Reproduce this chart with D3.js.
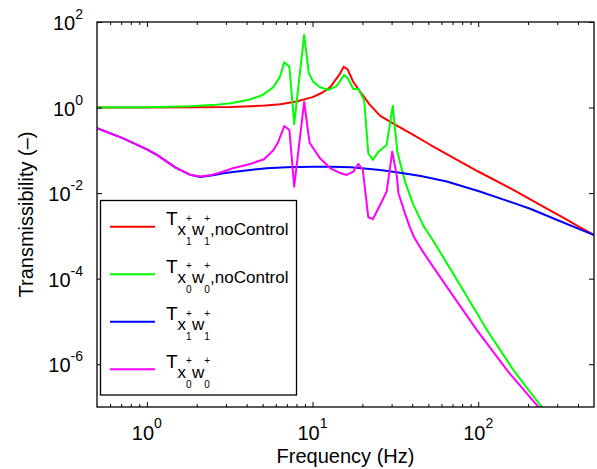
<!DOCTYPE html>
<html><head><meta charset="utf-8">
<script src="https://cdn.jsdelivr.net/npm/d3@7"></script>
<style>body{margin:0;background:#fff}svg{display:block}</style>
</head><body><svg id="chart" width="597" height="469"></svg>
<script>
// ---------- data ----------
const redFreq = [0.5, 1, 2, 3.2, 4.2, 5.2, 6.4, 8, 10, 11.5, 12.8, 13.8, 14.7, 15.4, 16.3, 17.6, 19, 20.3, 22, 25.6, 32.3, 40.6, 51.3, 64.6, 100, 163, 250, 330, 412, 500];
const redValues = [1.0, 1.0, 1.01, 1.03, 1.07, 1.12, 1.2, 1.38, 1.75, 2.25, 3.0, 4.5, 6.3, 9.0, 7.8, 4.0, 2.6, 1.85, 1.2, 0.64, 0.38, 0.23, 0.135, 0.082, 0.032, 0.0119, 4.7e-3, 2.6e-3, 1.58e-3, 1.05e-3];

const greenFreq = [0.5, 1, 1.8, 2.5, 3.2, 4.2, 5.0, 5.8, 6.35, 6.75, 7.25, 7.75, 8.9, 9.5, 10.1, 11.1, 12.5, 14.0, 15.5, 16.4, 17.6, 18.9, 20.5, 21.7, 23.1, 25.0, 28.0, 30.5, 32.5, 36.2, 40.4, 46.7, 53.6, 64.0, 78.2, 114, 166, 242, 312];
const greenValues = [1.0, 1.01, 1.07, 1.14, 1.26, 1.55, 1.97, 3.0, 5.2, 11.4, 9.0, 0.41, 49.7, 6.3, 4.0, 2.98, 2.58, 3.2, 5.8, 4.7, 2.72, 2.72, 1.5, 0.0855, 0.06, 0.093, 0.134, 1.09, 0.093, 0.0183, 5.6e-3, 1.71e-3, 7.6e-4, 2.47e-4, 6.8e-5, 6.0e-6, 6.6e-7, 1e-7, 2.7e-8];

const blueFreq = [0.5, 0.72, 1.0, 1.15, 1.5, 1.82, 2.1, 2.5, 2.9, 3.3, 4.2, 5.3, 7, 10, 13, 17, 25.6, 33.8, 45, 64.6, 100, 163, 206, 300, 412, 500];
const blueValues = [0.33, 0.19, 0.105, 0.078, 0.039, 0.027, 0.0238, 0.026, 0.029, 0.031, 0.0348, 0.0382, 0.040, 0.0416, 0.0416, 0.040, 0.0348, 0.0301, 0.025, 0.0186, 0.0112, 5.9e-3, 4.3e-3, 2.35e-3, 1.42e-3, 1.05e-3];

const magentaFreq = [0.5, 0.72, 1.0, 1.15, 1.5, 1.82, 2.1, 2.5, 2.9, 3.3, 4.2, 5.1, 5.8, 6.2, 6.75, 7.25, 7.75, 8.9, 9.6, 11.1, 12.8, 14.5, 16.1, 17.6, 18.9, 20.1, 21.7, 23.1, 25.0, 28.0, 30.3, 32.3, 33.0, 36.2, 38.8, 41.2, 45.6, 51.0, 64.1, 98.9, 152, 231, 312];
const magentaValues = [0.33, 0.19, 0.105, 0.078, 0.039, 0.027, 0.0245, 0.027, 0.032, 0.038, 0.048, 0.062, 0.1, 0.155, 0.37, 0.30, 0.0142, 1.35, 0.15, 0.065, 0.038, 0.030, 0.0266, 0.0318, 0.0481, 0.035, 2.73e-3, 2.46e-3, 4.44e-3, 0.0108, 0.0933, 0.0243, 9.95e-3, 3.27e-3, 1.54e-3, 9.0e-4, 4.7e-4, 2.47e-4, 6.8e-5, 6.0e-6, 6.6e-7, 1e-7, 2.8e-8];

const seriesColors = ["#ff0000", "#00ff00", "#0000ff", "#ff00ff"];
const legendIndex = ["1", "0", "1", "0"];
const legendSuffix = [",noControl", ",noControl", "", ""];

const xDomain = [0.5, 500];
const yDomain = [1e-7, 1e2];
const xMajorTicks = [1, 10, 100];
const xMinorTicks = [0.6, 0.7, 0.8, 0.9, 2, 3, 4, 5, 6, 7, 8, 9, 20, 30, 40, 50, 60, 70, 80, 90, 200, 300, 400];
const yMajorTicks = [1e-6, 1e-4, 1e-2, 1, 1e2];
const xTickExponents = ["0", "1", "2"];
const yTickExponents = ["-6", "-4", "-2", "0", "2"];
const xTitle = "Frequency (Hz)";
const yTitle = "Transmissibility (\u2013)";

// ---------- layout ----------
const FONT = "'Liberation Sans', Arial, Helvetica, sans-serif";
const L = 97, R = 594, T = 22, B = 407;
const svg = d3.select("#chart").style("font-family", FONT);

const x = d3.scaleLog().domain(xDomain).range([L, R]);
const y = d3.scaleLog().domain(yDomain).range([B, T]);

svg.append("defs").append("clipPath").attr("id", "plotclip")
  .append("rect").attr("x", L).attr("y", T).attr("width", R - L).attr("height", B - T);

const series = [
  {f: redFreq, v: redValues},
  {f: greenFreq, v: greenValues},
  {f: blueFreq, v: blueValues},
  {f: magentaFreq, v: magentaValues}
];

const line = d3.line().x(d => x(d[0])).y(d => y(d[1]));
const lines = svg.append("g").attr("clip-path", "url(#plotclip)");
series.forEach((s, i) => {
  lines.append("path")
    .datum(s.f.map((f, k) => [f, s.v[k]]))
    .attr("d", line)
    .attr("fill", "none")
    .attr("stroke", seriesColors[i])
    .attr("stroke-width", 2)
    .attr("stroke-linejoin", "round");
});

// ---------- axes (ticks inward, on all four sides) ----------
function styleAxis(g) {
  g.select(".domain").remove();
  g.selectAll(".tick line").attr("stroke", "#000").attr("stroke-width", 1);
  g.selectAll(".tick text").remove();
}
const majLen = 5, minLen = 3;
svg.append("g").attr("transform", `translate(0,${B})`)
  .call(d3.axisBottom(x).tickValues(xMajorTicks).tickSize(-majLen).tickFormat("")).call(styleAxis);
svg.append("g").attr("transform", `translate(0,${B})`)
  .call(d3.axisBottom(x).tickValues(xMinorTicks).tickSize(-minLen).tickFormat("")).call(styleAxis);
svg.append("g").attr("transform", `translate(0,${T})`)
  .call(d3.axisTop(x).tickValues(xMajorTicks).tickSize(-majLen).tickFormat("")).call(styleAxis);
svg.append("g").attr("transform", `translate(0,${T})`)
  .call(d3.axisTop(x).tickValues(xMinorTicks).tickSize(-minLen).tickFormat("")).call(styleAxis);
svg.append("g").attr("transform", `translate(${L},0)`)
  .call(d3.axisLeft(y).tickValues(yMajorTicks).tickSize(-majLen).tickFormat("")).call(styleAxis);
svg.append("g").attr("transform", `translate(${R},0)`)
  .call(d3.axisRight(y).tickValues(yMajorTicks).tickSize(-majLen).tickFormat("")).call(styleAxis);

// frame
svg.append("rect").attr("x", L).attr("y", T).attr("width", R - L).attr("height", B - T)
  .attr("fill", "none").attr("stroke", "#000").attr("stroke-width", 1.3);

// tick labels
xMajorTicks.forEach((v, i) => {
  const t = svg.append("text").attr("x", x(v)).attr("y", 440).attr("text-anchor", "middle").attr("fill", "#000");
  t.append("tspan").attr("font-size", 20).text("10");
  t.append("tspan").attr("font-size", 14).attr("dy", -12).text(xTickExponents[i]);
});
yMajorTicks.forEach((v, i) => {
  const t = svg.append("text").attr("x", 83).attr("y", y(v) + 8).attr("text-anchor", "end").attr("fill", "#000");
  t.append("tspan").attr("font-size", 20).text("10");
  t.append("tspan").attr("font-size", 14).attr("dy", -11).text(yTickExponents[i]);
});

// axis titles
svg.append("text").attr("x", (L + R) / 2).attr("y", 463).attr("text-anchor", "middle")
  .attr("font-size", 20).text(xTitle);
svg.append("text").attr("transform", `translate(33,${(T + B) / 2}) rotate(-90)`).attr("text-anchor", "middle")
  .attr("font-size", 20).text(yTitle);

// ---------- legend ----------
const lg = svg.append("g");
lg.append("rect").attr("x", 100.5).attr("y", 200.5).attr("width", 196).attr("height", 194.5)
  .attr("fill", "#fff").attr("stroke", "#000").attr("stroke-width", 1.3);
const legendY = [226.7, 274.2, 321.7, 369.2];
function piece(xp, yp, size, txt) {
  const t = lg.append("text").attr("x", xp).attr("y", yp).attr("font-size", size).attr("fill", "#000").text(txt);
  return t.node().getComputedTextLength();
}
legendY.forEach((ly, i) => {
  lg.append("line").attr("x1", 110).attr("x2", 155).attr("y1", ly).attr("y2", ly)
    .attr("stroke", seriesColors[i]).attr("stroke-width", 2);
  let cx = 166;
  cx += piece(cx, ly - 1.5, 19, "T");
  ["x", "w"].forEach(letter => {
    cx += piece(cx, ly + 8.5, 17, letter);
    const a = piece(cx, ly - 5, 10, "+");
    const b = piece(cx, ly + 18.5, 10, legendIndex[i]);
    cx += Math.max(a, b);
  });
  if (legendSuffix[i]) piece(cx, ly + 8.5, 17, legendSuffix[i]);
});
</script></body></html>
